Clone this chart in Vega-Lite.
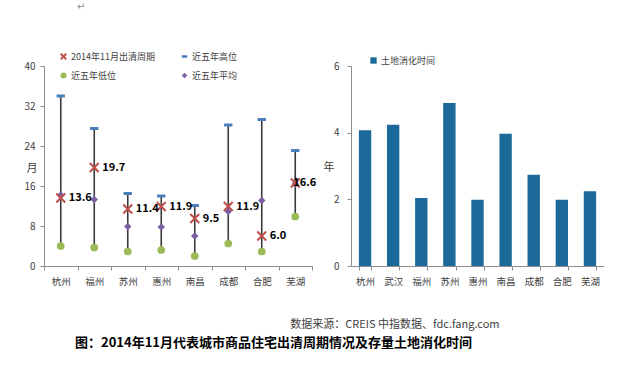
{
  "$schema": "https://vega.github.io/schema/vega-lite/v6.json",
  "background": "white",
  "padding": {"left": 23, "top": 2, "right": 5, "bottom": 5},
  "bounds": "flush",
  "spacing": 39,
  "config": {
    "font": "Noto Sans CJK SC",
    "view": {"stroke": null},
    "axis": {"grid": false, "domainColor": "#8c8c8c", "tickColor": "#8c8c8c", "labelColor": "#404040", "labelFont": "Noto Sans CJK SC", "titleFont": "Noto Sans CJK SC", "labelOverlap": false},
    "legend": {"labelFont": "Noto Sans CJK SC", "labelColor": "#404040", "labelFontSize": 9, "labelOffset": 3, "title": null, "orient": "none"}
  },
  "title": {
    "text": "图：2014年11月代表城市商品住宅出清周期情况及存量土地消化时间",
    "orient": "bottom",
    "anchor": "start",
    "frame": "group",
    "dx": 31,
    "offset": 8,
    "fontSize": 13,
    "fontWeight": "bold",
    "color": "#000000",
    "font": "Noto Sans CJK SC"
  },
  "resolve": {"scale": {"color": "independent"}, "legend": {"color": "independent"}},
  "datasets": {
    "cycle": [
      {"city": "杭州", "cur": 13.6, "high": 34.0, "low": 4.0, "avg": 14.2},
      {"city": "福州", "cur": 19.7, "high": 27.5, "low": 3.7, "avg": 13.3},
      {"city": "苏州", "cur": 11.4, "high": 14.5, "low": 2.9, "avg": 7.9},
      {"city": "惠州", "cur": 11.9, "high": 14.0, "low": 3.2, "avg": 7.8},
      {"city": "南昌", "cur": 9.5, "high": 12.1, "low": 2.0, "avg": 6.0},
      {"city": "成都", "cur": 11.9, "high": 28.2, "low": 4.5, "avg": 10.9},
      {"city": "合肥", "cur": 6.0, "high": 29.3, "low": 2.9, "avg": 13.1},
      {"city": "芜湖", "cur": 16.6, "high": 23.1, "low": 9.9, "avg": 16.4}
    ],
    "land": [
      {"city": "杭州", "years": 4.07},
      {"city": "武汉", "years": 4.24},
      {"city": "福州", "years": 2.04},
      {"city": "苏州", "years": 4.89},
      {"city": "惠州", "years": 1.99},
      {"city": "南昌", "years": 3.97},
      {"city": "成都", "years": 2.74},
      {"city": "合肥", "years": 1.99},
      {"city": "芜湖", "years": 2.24}
    ]
  },
  "hconcat": [
    {
      "width": 268,
      "height": 200,
      "title": {"text": "↵", "anchor": "start", "frame": "group", "dx": 33, "offset": 40, "fontSize": 10, "fontWeight": "normal", "color": "#8c8c8c", "font": "DejaVu Sans"},
      "data": {"name": "cycle"},
      "resolve": {"scale": {"color": "independent"}, "legend": {"color": "independent"}},
      "encoding": {
        "x": {
          "field": "city", "type": "nominal", "sort": null,
          "scale": {"paddingInner": 0, "paddingOuter": 0},
          "axis": {"title": null, "labelAngle": 0, "labelFontSize": 9.5, "labelPadding": 6, "tickBand": "extent", "tickSize": 4}
        },
        "y": {
          "type": "quantitative",
          "scale": {"domain": [0, 40], "nice": false},
          "axis": {"values": [0, 8, 16, 24, 32, 40], "title": "月", "titleAngle": 0, "titleX": -12.5, "titleY": 102, "titleAlign": "center", "titleBaseline": "middle", "titleFontSize": 11, "titleFontWeight": "normal", "titleColor": "#404040", "labelFontSize": 10, "tickSize": 4, "labelPadding": 5, "labelOverlap": false}
        }
      },
      "layer": [
        {
          "mark": {"type": "rule", "color": "#3a3a3a", "strokeWidth": 1.6},
          "encoding": {
            "y": {"field": "high"},
            "y2": {"field": "low"}
          }
        },
        {
          "mark": {"type": "point", "shape": "circle", "filled": true, "size": 60, "opacity": 1},
          "encoding": {
            "y": {"field": "low"},
            "color": {
              "datum": "近五年低位",
              "scale": {"range": ["#9bbb59"]},
              "legend": {"legendX": 15, "legendY": 5, "symbolType": "circle", "symbolSize": 36, "symbolOpacity": 1}
            }
          }
        },
        {
          "mark": {"type": "point", "shape": "diamond", "filled": true, "size": 55, "opacity": 1},
          "encoding": {
            "y": {"field": "avg"},
            "color": {
              "datum": "近五年平均",
              "scale": {"range": ["#7a5ea0"]},
              "legend": {"legendX": 136, "legendY": 5, "symbolType": "diamond", "symbolSize": 30, "symbolOpacity": 1}
            }
          }
        },
        {
          "mark": {"type": "point", "shape": "M-1,-1L1,1M1,-1L-1,1", "filled": false, "size": 80, "strokeWidth": 2, "opacity": 1},
          "encoding": {
            "y": {"field": "cur"},
            "color": {
              "datum": "2014年11月出清周期",
              "scale": {"range": ["#c0504d"]},
              "legend": {"legendX": 15, "legendY": -14, "symbolType": "M-1,-1L1,1M1,-1L-1,1", "symbolSize": 30, "symbolStrokeWidth": 2, "symbolOpacity": 1}
            }
          }
        },
        {
          "mark": {"type": "point", "shape": "stroke", "filled": false, "size": 70, "strokeWidth": 3, "opacity": 1},
          "encoding": {
            "y": {"field": "high"},
            "color": {
              "datum": "近五年高位",
              "scale": {"range": ["#4a7ebb"]},
              "legend": {"legendX": 136, "legendY": -14, "symbolType": "stroke", "symbolSize": 30, "symbolStrokeWidth": 2.5, "symbolOpacity": 1}
            }
          }
        },
        {
          "transform": [{"filter": "datum.city != '芜湖'"}],
          "mark": {"type": "text", "align": "left", "baseline": "middle", "dx": 8, "fontSize": 11, "fontWeight": "bold", "color": "#000000"},
          "encoding": {
            "y": {"field": "cur"},
            "text": {"field": "cur", "type": "quantitative", "format": ".1f"}
          }
        },
        {
          "transform": [{"filter": "datum.city == '芜湖'"}],
          "mark": {"type": "text", "align": "left", "baseline": "middle", "dx": -2, "fontSize": 11, "fontWeight": "bold", "color": "#000000"},
          "encoding": {
            "y": {"field": "cur"},
            "text": {"field": "cur", "type": "quantitative", "format": ".1f"}
          }
        }
      ]
    },
    {
      "width": 253,
      "height": 200,
      "data": {"name": "land"},
      "mark": {"type": "bar"},
      "encoding": {
        "x": {
          "field": "city", "type": "nominal", "sort": null,
          "scale": {"paddingInner": 0.56, "paddingOuter": 0.28},
          "axis": {"title": "数据来源：CREIS 中指数据、fdc.fang.com", "titleX": 148, "titleY": 58, "titleAlign": "right", "titleBaseline": "middle", "titleFontSize": 11, "titleFontWeight": "normal", "titleColor": "#404040", "labelAngle": 0, "labelFontSize": 9.5, "labelPadding": 6, "tickBand": "extent", "tickSize": 4}
        },
        "y": {
          "field": "years", "type": "quantitative",
          "scale": {"domain": [0, 6], "nice": false},
          "axis": {"values": [0, 2, 4, 6], "title": "年", "titleAngle": 0, "titleX": -22.5, "titleY": 101, "titleAlign": "center", "titleBaseline": "middle", "titleFontSize": 11, "titleFontWeight": "normal", "titleColor": "#404040", "labelFontSize": 10, "tickSize": 4, "labelPadding": 8}
        },
        "color": {
          "datum": "土地消化时间",
          "scale": {"range": ["#1b6a99"]},
          "legend": {"legendX": 18, "legendY": -10, "symbolType": "square", "symbolSize": 40}
        }
      }
    }
  ]
}
